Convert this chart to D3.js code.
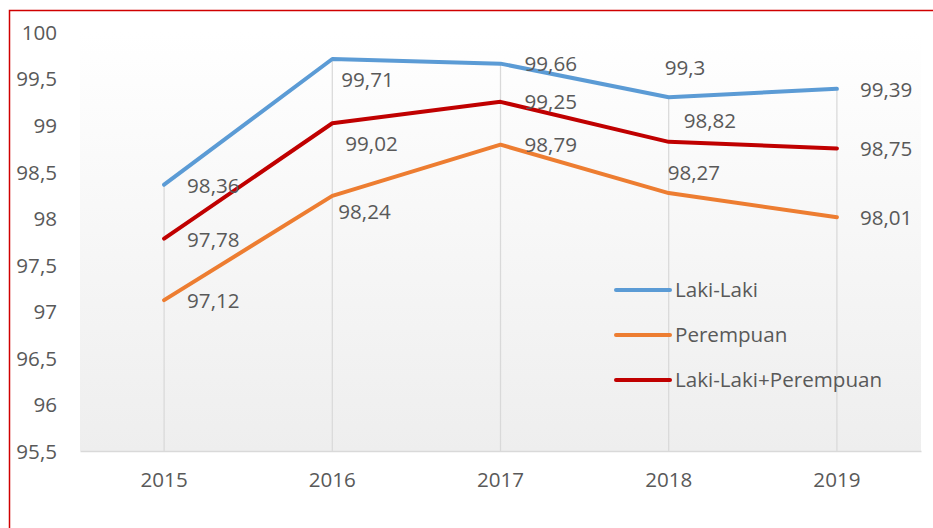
<!DOCTYPE html>
<html>
<head>
<meta charset="utf-8">
<script src="https://cdn.jsdelivr.net/npm/d3@7"></script>
<style>
  body { margin: 0; background: #fff; }
  svg text { font-family: "Open Sans", sans-serif; fill: #595959; }
</style>
</head>
<body>
<svg id="chart" width="933" height="528"></svg>
<script>
// data
const years = ["2015", "2016", "2017", "2018", "2019"];
const lakiLaki = [98.36, 99.71, 99.66, 99.3, 99.39];
const perempuan = [97.12, 98.24, 98.79, 98.27, 98.01];
const total = [97.78, 99.02, 99.25, 98.82, 98.75];
const yTicks = [95.5, 96, 96.5, 97, 97.5, 98, 98.5, 99, 99.5, 100];

const series = [
  { name: "Laki-Laki", values: lakiLaki, color: "#5B9BD5" },
  { name: "Perempuan", values: perempuan, color: "#ED7D31" },
  { name: "Laki-Laki+Perempuan", values: total, color: "#C00000" }
];

// label nudges (dx from point to label start, dy to label middle), default is "right"
const nudges = {
  "Laki-Laki":           [[23, 1], [9, 21], [24, 0], [-4, -30], [23, 1]],
  "Perempuan":           [[23, 0], [6, 16], [24, 0], [-1, -20], [23, 0]],
  "Laki-Laki+Perempuan": [[23, 1], [13, 20], [24, 0], [15, -21], [23, 0]]
};

const fontSize = 20.6;

const svg = d3.select("#chart");
const margin = { top: 32, right: 12, bottom: 77, left: 80 };
const innerWidth = 933 - margin.left - margin.right;
const innerHeight = 528 - margin.top - margin.bottom;

// outer red frame (runs past the window on right and bottom)
svg.append("rect")
    .attr("x", 9.5)
    .attr("y", 10.5)
    .attr("width", 940)
    .attr("height", 540)
    .attr("fill", "none")
    .attr("stroke", "#D00000")
    .attr("stroke-width", 1.5);

const defs = svg.append("defs");
const grad = defs.append("linearGradient")
    .attr("id", "plotBg")
    .attr("x1", 0).attr("y1", 0)
    .attr("x2", 0).attr("y2", 1);
grad.append("stop").attr("offset", "0%").attr("stop-color", "#ffffff");
grad.append("stop").attr("offset", "100%").attr("stop-color", "#eeeeee");

const g = svg.append("g")
    .attr("transform", `translate(${margin.left},${margin.top})`);

const xScale = d3.scaleBand()
    .domain(years)
    .range([0, innerWidth]);

const yScale = d3.scaleLinear()
    .domain([95.5, 100])
    .range([innerHeight, 0]);

const xPos = i => xScale(years[i]) + xScale.bandwidth() / 2;

g.append("rect")
    .attr("width", innerWidth)
    .attr("height", innerHeight)
    .attr("fill", "url(#plotBg)");

// drop lines from highest point to the category axis
years.forEach((yr, i) => {
  const top = d3.max(series, s => s.values[i]);
  g.append("line")
      .attr("x1", xPos(i))
      .attr("x2", xPos(i))
      .attr("y1", yScale(top))
      .attr("y2", innerHeight)
      .attr("stroke", "#d9d9d9")
      .attr("stroke-width", 1.25);
});

// axes
const yAxis = g.append("g")
    .call(d3.axisLeft(yScale).tickValues(yTicks).tickSize(0).tickPadding(23)
      .tickFormat(d => d3.format("")(d).replace(".", ",")));
yAxis.select(".domain").remove();
yAxis.selectAll("text")
    .attr("font-size", fontSize)
    .attr("dy", "0.36em");

const xAxis = g.append("g")
    .attr("transform", `translate(0,${innerHeight})`)
    .call(d3.axisBottom(xScale).tickSize(0).tickPadding(21));
xAxis.select(".domain")
    .attr("stroke", "#d9d9d9")
    .attr("stroke-width", 1.5);
xAxis.selectAll("text")
    .attr("font-size", fontSize);

const line = d3.line()
    .x((d, i) => xPos(i))
    .y(d => yScale(d));

series.forEach(s => {
  g.append("path")
      .datum(s.values)
      .attr("d", line)
      .attr("fill", "none")
      .attr("stroke", s.color)
      .attr("stroke-width", 4)
      .attr("stroke-linejoin", "round")
      .attr("stroke-linecap", "round");
});

series.forEach(s => {
  g.selectAll(null)
    .data(s.values)
    .join("text")
      .attr("x", (d, i) => xPos(i) + nudges[s.name][i][0])
      .attr("y", (d, i) => yScale(d) + nudges[s.name][i][1])
      .attr("dy", "0.36em")
      .attr("font-size", fontSize)
      .text(d => String(d).replace(".", ","));
});

// legend
const legend = svg.append("g")
    .attr("transform", "translate(616,290)");

series.forEach((s, i) => {
  const row = legend.append("g")
      .attr("transform", `translate(0,${i * 45})`);
  row.append("line")
      .attr("x1", 0)
      .attr("x2", 54)
      .attr("stroke", s.color)
      .attr("stroke-width", 4)
      .attr("stroke-linecap", "round");
  row.append("text")
      .attr("x", 59)
      .attr("dy", "0.36em")
      .attr("font-size", fontSize)
      .text(s.name);
});
</script>
</body>
</html>
